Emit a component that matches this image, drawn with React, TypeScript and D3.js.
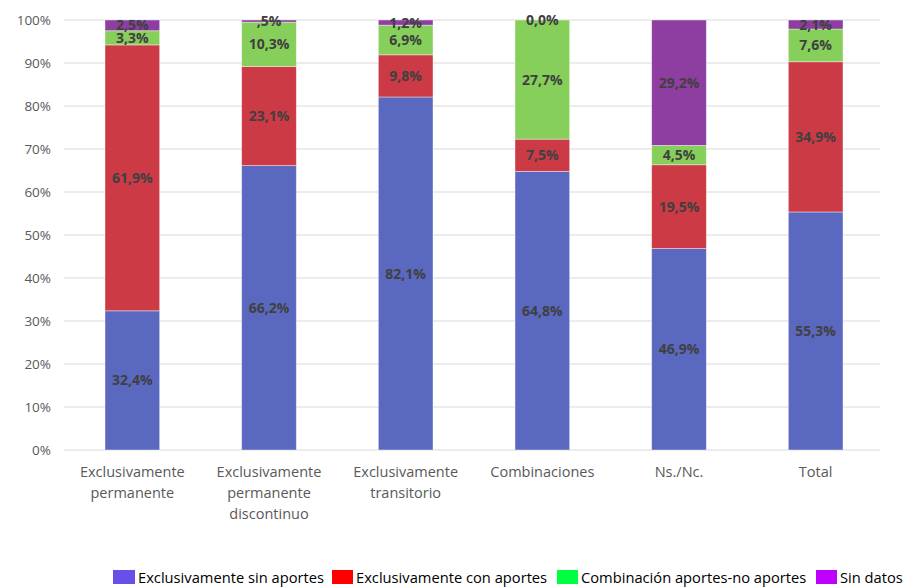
import React from "react";
import * as d3 from "d3";

// Categories (multi-line labels split on "\n")
const categories = [
  "Exclusivamente\npermanente",
  "Exclusivamente\npermanente\ndiscontinuo",
  "Exclusivamente\ntransitorio",
  "Combinaciones",
  "Ns./Nc.",
  "Total",
];

const seriesNames = [
  "Exclusivamente sin aportes",
  "Exclusivamente con aportes",
  "Combinación aportes-no aportes",
  "Sin datos",
];

const sinAportes = [32.4, 66.2, 82.1, 64.8, 46.9, 55.3];
const conAportes = [61.9, 23.1, 9.8, 7.5, 19.5, 34.9];
const combinacion = [3.3, 10.3, 6.9, 27.7, 4.5, 7.6];
const sinDatos = [2.5, 0.5, 1.2, 0.0, 29.2, 2.1];

const yTicks = [0, 10, 20, 30, 40, 50, 60, 70, 80, 90, 100];

const barColors = ["#5A68C0", "#CC3A45", "#86CF5A", "#8E3EA0"];
const legendColors = ["#6650E8", "#FF0000", "#00FF40", "#C000FF"];

const fmt = (v: number) => {
  const s = v.toFixed(1).replace(".", ",");
  return (s.startsWith("0,") && v > 0 ? s.slice(1) : s) + "%";
};

export default function App() {
  const width = 906;
  const height = 588;
  const left = 64;
  const right = 884;
  const top = 20;
  const bottom = 450;

  const x = d3.scaleBand<number>().domain(d3.range(categories.length)).range([left, right]).paddingInner(0.6).paddingOuter(0.3);
  const y = d3.scaleLinear().domain([0, 100]).range([bottom, top]);

  const series = [sinAportes, conAportes, combinacion, sinDatos];
  const rows = categories.map((_, i) => {
    const vals = series.map((s) => s[i]);
    const total = d3.sum(vals);
    let acc = 0;
    return vals.map((v, k) => {
      const y0 = (acc / total) * 100;
      acc += v;
      const y1 = (acc / total) * 100;
      return { k, v, y0, y1 };
    });
  });

  const font = "'Open Sans', Lato, sans-serif";

  const legendItems = [
    { x: 113, w: 22 },
    { x: 332, w: 21 },
    { x: 557, w: 21 },
    { x: 816, w: 21 },
  ];

  return (
    <svg width={width} height={height} style={{ position: "absolute", left: 0, top: 0, background: "#fff" }}>
      {yTicks.map((t) => (
        <g key={t}>
          <line x1={left} x2={right - 4} y1={y(t)} y2={y(t)} stroke="#D9D9D9" strokeWidth={1} />
          <text x={51} y={y(t)} dy="0.35em" textAnchor="end" fontFamily={font} fontSize={13.5} fill="#595959">
            {t}%
          </text>
        </g>
      ))}
      {rows.map((segs, i) =>
        segs.map((s) => (
          <rect
            key={`${i}-${s.k}`}
            x={x(i)!}
            y={y(s.y1)}
            width={x.bandwidth()}
            height={Math.max(0, y(s.y0) - y(s.y1))}
            fill={barColors[s.k]}
            stroke="#ffffff"
            strokeOpacity={0.5}
            strokeWidth={0.8}
          />
        ))
      )}
      {rows.map((segs, i) =>
        segs.map((s) => (
          <text
            key={`l-${i}-${s.k}`}
            x={x(i)! + x.bandwidth() / 2}
            y={y((s.y0 + s.y1) / 2)}
            dy="0.36em"
            textAnchor="middle"
            fontFamily={font}
            fontWeight="bold"
            fontSize={14}
            fill="#404040"
          >
            {fmt(s.v)}
          </text>
        ))
      )}
      {categories.map((c, i) => (
        <text key={c} x={x(i)! + x.bandwidth() / 2} y={477} textAnchor="middle" fontFamily={font} fontSize={14.5} fill="#595959">
          {c.split("\n").map((line, j) => (
            <tspan key={j} x={x(i)! + x.bandwidth() / 2} dy={j === 0 ? 0 : 21}>
              {line}
            </tspan>
          ))}
        </text>
      ))}
      {seriesNames.map((n, k) => (
        <g key={n}>
          <rect x={legendItems[k].x} y={570} width={legendItems[k].w} height={14} fill={legendColors[k]} />
          <text x={legendItems[k].x + legendItems[k].w + 3} y={583} fontFamily={font} fontSize={14.7} fill="#000">
            {n}
          </text>
        </g>
      ))}
    </svg>
  );
}
